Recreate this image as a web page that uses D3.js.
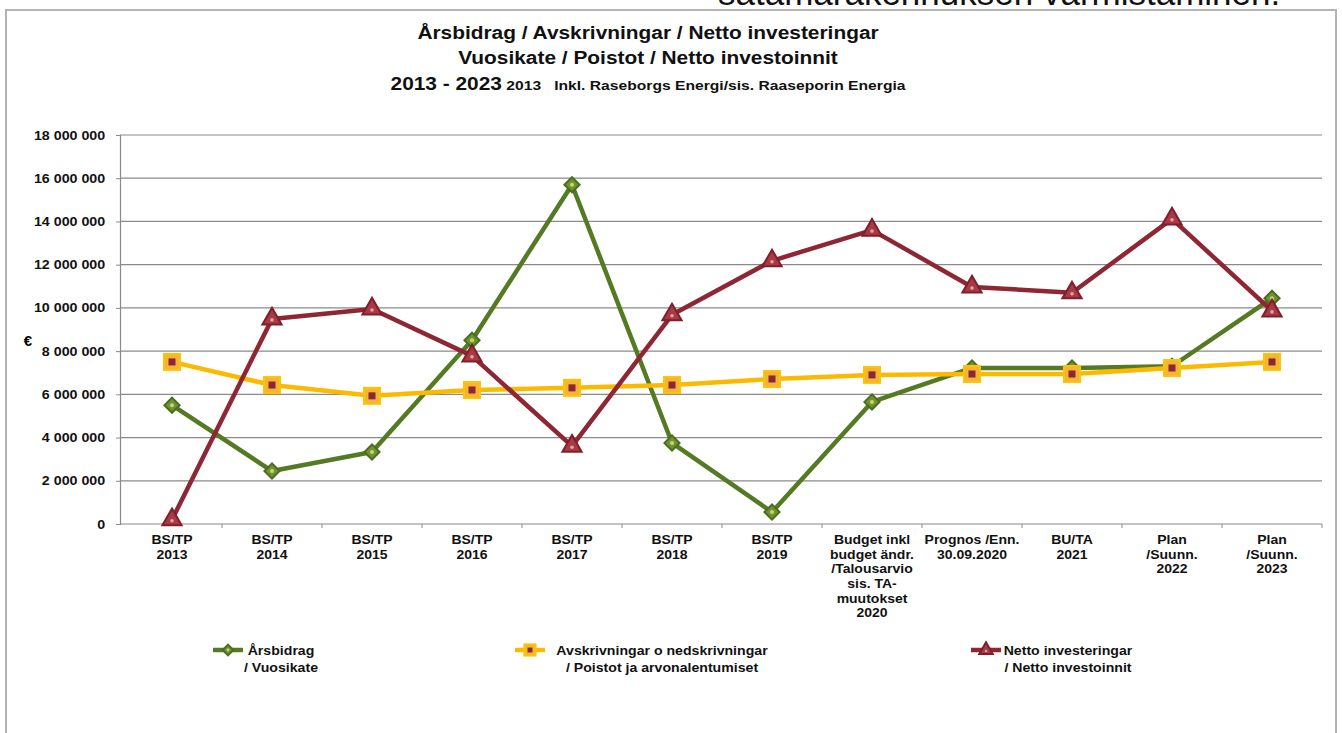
<!DOCTYPE html>
<html>
<head>
<meta charset="utf-8">
<script src="https://cdn.jsdelivr.net/npm/d3@7"></script>
<style>
  body { margin: 0; background: #fff; }
  svg text { font-family: "Liberation Sans", Arial, sans-serif; }
</style>
</head>
<body>
<svg width="1342" height="733"></svg>
<script>
// category labels (line breaks as in the original)
const categories = [
  "BS/TP\n2013", "BS/TP\n2014", "BS/TP\n2015", "BS/TP\n2016", "BS/TP\n2017",
  "BS/TP\n2018", "BS/TP\n2019",
  "Budget inkl\nbudget ändr.\n/Talousarvio\nsis. TA-\nmuutokset\n2020",
  "Prognos /Enn.\n30.09.2020", "BU/TA\n2021", "Plan\n/Suunn.\n2022", "Plan\n/Suunn.\n2023"
];

// Årsbidrag / Vuosikate
const arsbidrag = [5500000, 2450000, 3330000, 8500000, 15700000, 3750000, 550000,
  5650000, 7220000, 7220000, 7300000, 10450000];
// Avskrivningar / Poistot
const avskrivningar = [7500000, 6430000, 5930000, 6200000, 6300000, 6430000, 6710000,
  6900000, 6940000, 6940000, 7220000, 7500000];
// Netto investeringar / Netto investoinnit
const nettoInv = [200000, 9490000, 9950000, 7780000, 3600000, 9680000, 12180000,
  13600000, 10970000, 10700000, 14120000, 9860000];

const yTicks = [0, 2000000, 4000000, 6000000, 8000000, 10000000, 12000000, 14000000, 16000000, 18000000];

const green = "#557a24", orange = "#fbb900", maroon = "#8e2733";
const SX = 1.16; // the source text is slightly stretched horizontally

const svg = d3.select("svg");

// outer frame
svg.append("rect")
    .attr("x", 6).attr("y", 10)
    .attr("width", 1330).attr("height", 740)
    .attr("fill", "#fff")
    .attr("stroke", "#b4b4b4")
    .attr("stroke-width", 2);

// cropped text from the page above the chart
svg.append("text")
    .attr("x", 718).attr("y", 5)
    .attr("font-size", 35)
    .attr("fill", "#111")
    .text("satamarakennuksen varmistaminen.");

function stretchedText(px, py, sx) {
    return svg.append("text")
        .attr("transform", `translate(${px},${py}) scale(${sx},1)`)
        .attr("font-weight", "bold").attr("fill", "#111");
}

// titles
stretchedText(648, 39, SX).attr("text-anchor", "middle").attr("font-size", 18)
    .text("Årsbidrag / Avskrivningar / Netto investeringar");
stretchedText(648, 64, SX).attr("text-anchor", "middle").attr("font-size", 18)
    .text("Vuosikate / Poistot / Netto investoinnit");
const t3 = stretchedText(648, 90, SX).attr("text-anchor", "middle");
t3.append("tspan").attr("font-size", 18).text("2013 - 2023");
t3.append("tspan").attr("font-size", 13.5).text(" 2013\u00a0\u00a0 Inkl. Raseborgs Energi/sis. Raaseporin Energia");

const x = d3.scaleBand().domain(categories).range([122, 1322]).padding(0);
const y = d3.scaleLinear().domain([0, 18000000]).range([524, 135]);
const cx = d => x(d) + x.bandwidth() / 2;

const fmt = d3.formatLocale({ decimal: ",", thousands: " ", grouping: [3], currency: ["", "€"] }).format(",d");

// grid lines
svg.append("g")
    .selectAll("line")
    .data(yTicks.filter(d => d > 0))
    .enter().append("line")
    .attr("x1", 120).attr("x2", 1322)
    .attr("y1", d => y(d)).attr("y2", d => y(d))
    .attr("stroke", "#8a8a8a").attr("stroke-width", 1.2);

// y axis
const yAxis = svg.append("g")
    .attr("transform", "translate(120,0)")
    .call(d3.axisLeft(y).tickValues(yTicks).tickFormat(fmt).tickSize(4).tickPadding(9));
yAxis.select(".domain").attr("stroke", "#8a8a8a").attr("stroke-width", 1.2);
yAxis.selectAll(".tick line").attr("stroke", "#8a8a8a");
yAxis.selectAll("text")
    .attr("font-size", 12.5).attr("font-weight", "bold").attr("fill", "#111")
    .attr("font-family", "'Liberation Sans', Arial, sans-serif")
    .attr("transform", "scale(1.14,1)");

svg.append("text").attr("x", 28).attr("y", 346)
    .attr("text-anchor", "middle").attr("font-size", 15).attr("font-weight", "bold")
    .text("€");

// x axis with ticks on category boundaries
svg.append("line").attr("x1", 120).attr("x2", 1322).attr("y1", 524).attr("y2", 524)
    .attr("stroke", "#8a8a8a").attr("stroke-width", 1.2);
svg.append("g").selectAll("line")
    .data(categories.slice(1).concat(["end"]))
    .enter().append("line")
    .attr("x1", d => d === "end" ? 1322 : x(d))
    .attr("x2", d => d === "end" ? 1322 : x(d))
    .attr("y1", 524).attr("y2", 528)
    .attr("stroke", "#8a8a8a");

categories.forEach(d => {
    const t = stretchedText(cx(d), 544, 1.12)
        .attr("text-anchor", "middle").attr("font-size", 12.5);
    d.split("\n").forEach((l, i) => {
        t.append("tspan").attr("x", 0).attr("dy", i === 0 ? 0 : 14.7).text(l);
    });
});

// line series
const series = [
  { values: arsbidrag, color: green, marker: "diamond" },
  { values: avskrivningar, color: orange, marker: "square" },
  { values: nettoInv, color: maroon, marker: "triangle" }
];

const line = d3.line()
    .x((v, i) => cx(categories[i]))
    .y(v => y(v));

function drawMarker(g, type, px, py, scale) {
    const s = scale || 1;
    if (type === "diamond") {
        g.append("path")
            .attr("d", d3.symbol().type(d3.symbolSquare).size(115 * s * s)())
            .attr("transform", `translate(${px},${py}) rotate(45)`)
            .attr("fill", "#6f9333").attr("stroke", "#4b6d1e").attr("stroke-width", 2);
        g.append("circle").attr("cx", px).attr("cy", py).attr("r", 2 * s)
            .attr("fill", "#c9d66a");
    } else if (type === "square") {
        g.append("rect")
            .attr("x", px - 8 * s).attr("y", py - 8 * s)
            .attr("width", 16 * s).attr("height", 16 * s)
            .attr("fill", "#f2b43a").attr("stroke", "#ffc400").attr("stroke-width", 2);
        g.append("rect")
            .attr("x", px - 3.5 * s).attr("y", py - 3.5 * s)
            .attr("width", 7 * s).attr("height", 7 * s)
            .attr("fill", "#8e2733");
    } else {
        g.append("path")
            .attr("d", d3.symbol().type(d3.symbolTriangle).size(160 * s * s)())
            .attr("transform", `translate(${px},${py})`)
            .attr("fill", "#a83a45").attr("stroke", "#7e1f2a").attr("stroke-width", 2);
        g.append("circle").attr("cx", px).attr("cy", py + 1).attr("r", 1.8 * s)
            .attr("fill", "#e7a0a6");
    }
}

series.forEach(s => {
    const g = svg.append("g");
    g.append("path")
        .datum(s.values)
        .attr("d", line)
        .attr("fill", "none")
        .attr("stroke", s.color)
        .attr("stroke-width", 4.5)
        .attr("stroke-linejoin", "round");
    s.values.forEach((v, i) => drawMarker(g, s.marker, cx(categories[i]), y(v)));
});

// legend
const legend = [
  { x: 228, tx: 281, lines: ["Årsbidrag", "/ Vuosikate"], color: green, marker: "diamond" },
  { x: 530, tx: 662, lines: ["Avskrivningar o nedskrivningar", "/ Poistot ja arvonalentumiset"], color: orange, marker: "square" },
  { x: 986, tx: 1068, lines: ["Netto investeringar", "/ Netto investoinnit"], color: maroon, marker: "triangle" }
];
legend.forEach(l => {
    const g = svg.append("g");
    g.append("line").attr("x1", l.x - 15).attr("x2", l.x + 15)
        .attr("y1", 650).attr("y2", 650)
        .attr("stroke", l.color).attr("stroke-width", 4.5);
    drawMarker(g, l.marker, l.x, 650, 0.7);
    l.lines.forEach((t, i) => {
        stretchedText(l.tx, 655 + i * 17, 1.13)
            .attr("text-anchor", "middle").attr("font-size", 12.5)
            .text(t);
    });
});
</script>
</body>
</html>
